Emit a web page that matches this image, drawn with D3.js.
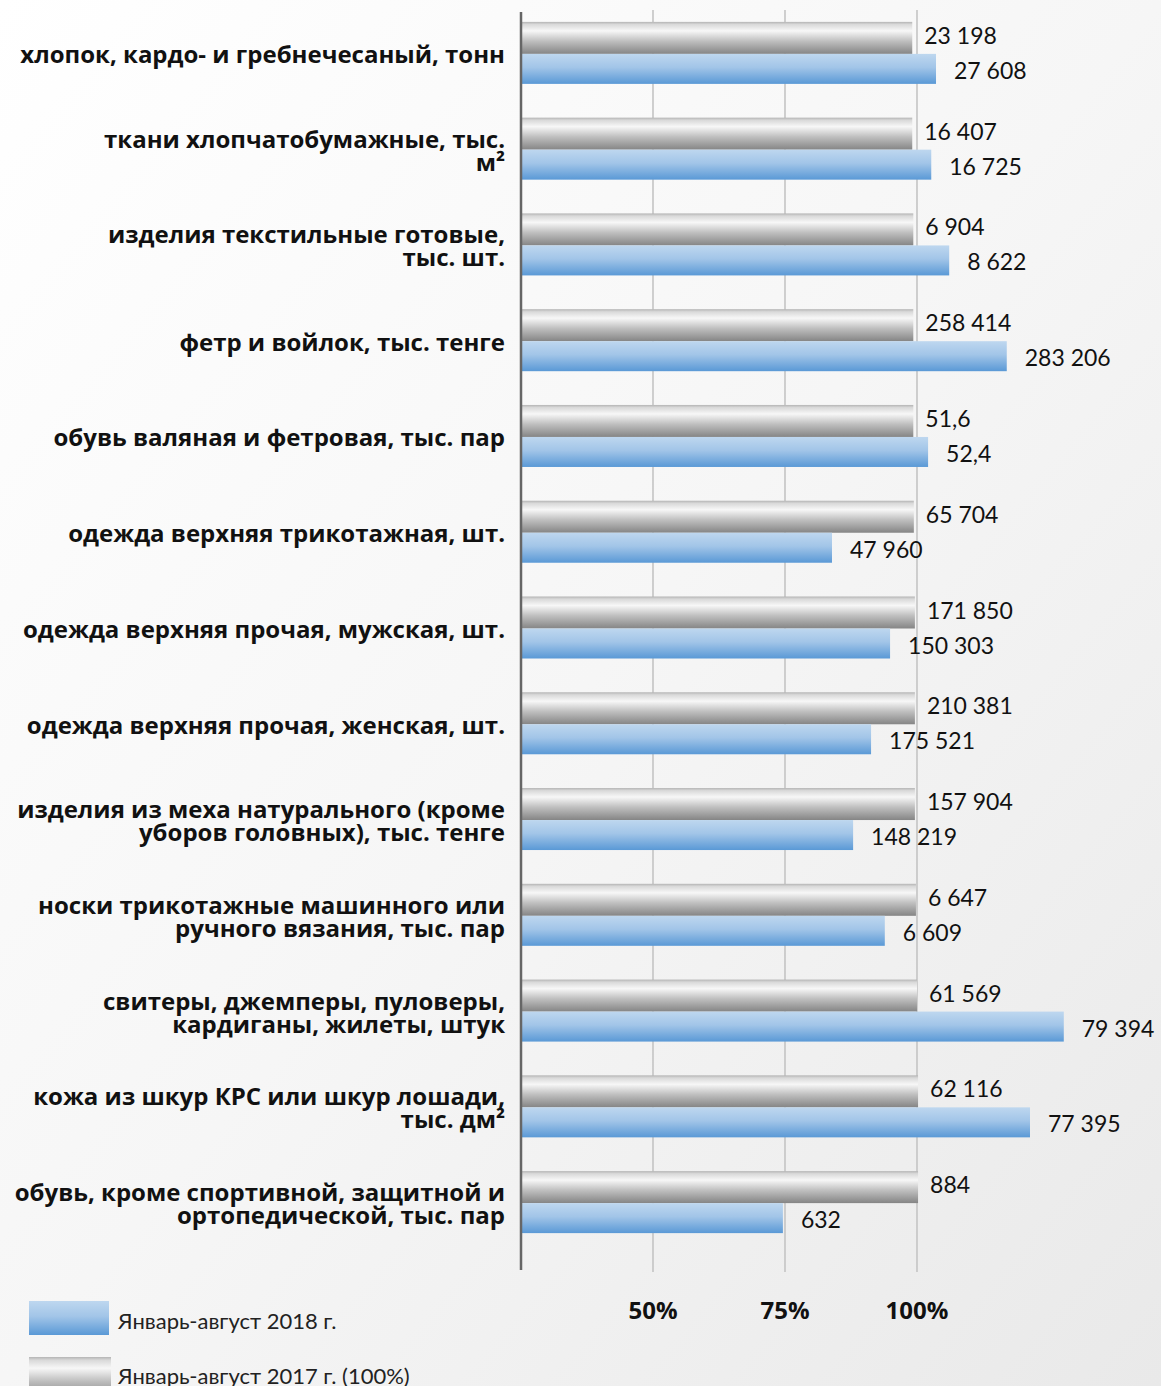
<!DOCTYPE html>
<html>
<head>
<meta charset="utf-8">
<script src="https://cdn.jsdelivr.net/npm/d3@7"></script>
<style>
  html, body { margin: 0; padding: 0; }
  body { width: 1161px; height: 1386px; overflow: hidden; }
  svg { display: block; }
</style>
</head>
<body>
<svg id="chart" width="1161" height="1386"></svg>
<script>
// ---- data ----
const categories = [
  "хлопок, кардо- и гребнечесаный, тонн",
  "ткани хлопчатобумажные, тыс.\nм²",
  "изделия текстильные готовые,\nтыс. шт.",
  "фетр и войлок, тыс. тенге",
  "обувь валяная и фетровая, тыс. пар",
  "одежда верхняя трикотажная, шт.",
  "одежда верхняя прочая, мужская, шт.",
  "одежда верхняя прочая, женская, шт.",
  "изделия из меха натурального (кроме\nуборов головных), тыс. тенге",
  "носки трикотажные машинного или\nручного вязания, тыс. пар",
  "свитеры, джемперы, пуловеры,\nкардиганы, жилеты, штук",
  "кожа из шкур КРС или шкур лошади,\nтыс. дм²",
  "обувь, кроме спортивной, защитной и\nортопедической, тыс. пар"
];
// bar lengths in percent
const pct2017 = [99.1, 99.1, 99.3, 99.3, 99.3, 99.4, 99.6, 99.6, 99.6, 99.8, 100, 100.2, 100.2];
const pct2018 = [103.6, 102.7, 106.1, 117.0, 102.1, 83.9, 94.9, 91.3, 87.9, 93.9, 127.8, 121.4, 74.6];
// value labels
const labels2017 = ["23 198", "16 407", "6 904", "258 414", "51,6", "65 704", "171 850", "210 381", "157 904", "6 647", "61 569", "62 116", "884"];
const labels2018 = ["27 608", "16 725", "8 622", "283 206", "52,4", "47 960", "150 303", "175 521", "148 219", "6 609", "79 394", "77 395", "632"];
const tickValues = [50, 75, 100];
const seriesNames = ["Январь-август 2018 г.", "Январь-август 2017 г. (100%)"];

// ---- drawing ----
const svg = d3.select("#chart");
const defs = svg.append("defs");

const bg = defs.append("linearGradient").attr("id", "bgGrad")
  .attr("x1", "0").attr("y1", "0").attr("x2", "1").attr("y2", "1");
bg.append("stop").attr("offset", "0").attr("stop-color", "#ffffff");
bg.append("stop").attr("offset", "0.5").attr("stop-color", "#f6f6f6");
bg.append("stop").attr("offset", "1").attr("stop-color", "#e9e9e9");

const blueG = defs.append("linearGradient").attr("id", "blueGrad")
  .attr("x1", "0").attr("y1", "0").attr("x2", "0").attr("y2", "1");
[[0, "#bed7ef"], [0.45, "#a2c5e8"], [1, "#5a99d6"]].forEach(s =>
  blueG.append("stop").attr("offset", s[0]).attr("stop-color", s[1]));

const grayG = defs.append("linearGradient").attr("id", "grayGrad")
  .attr("x1", "0").attr("y1", "0").attr("x2", "0").attr("y2", "1");
[[0, "#b4b4b4"], [0.08, "#d9d9d9"], [0.28, "#f7f7f7"], [0.6, "#bfbfbf"], [1, "#858585"]].forEach(s =>
  grayG.append("stop").attr("offset", s[0]).attr("stop-color", s[1]));

svg.append("rect").attr("width", 1161).attr("height", 1386).attr("fill", "url(#bgGrad)");

const x = d3.scaleLinear().domain([25, 100]).range([521, 917]);
const y = d3.scaleBand().domain(categories).range([5, 1250]);

const plotTop = 10, plotBottom = 1272;

// gridlines
svg.append("g").selectAll("line").data(tickValues).join("line")
  .attr("x1", d => x(d)).attr("x2", d => x(d))
  .attr("y1", plotTop).attr("y2", plotBottom)
  .attr("stroke", "#c4c4c4").attr("stroke-width", 1.6);

const font = "Lato, 'Open Sans', sans-serif";
const boldFont = "'Open Sans', Lato, sans-serif";

// bars
const rows = categories.map((c, i) => ({ c, i }));
const cy = d => y(d.c) + y.bandwidth() / 2;

svg.append("g").selectAll("rect").data(rows).join("rect")
  .attr("x", x(25)).attr("y", d => cy(d) - 31)
  .attr("width", d => x(pct2017[d.i]) - x(25)).attr("height", 32)
  .attr("fill", "url(#grayGrad)");

svg.append("g").selectAll("rect").data(rows).join("rect")
  .attr("x", x(25)).attr("y", d => cy(d) + 1)
  .attr("width", d => x(pct2018[d.i]) - x(25)).attr("height", 30)
  .attr("fill", "url(#blueGrad)");

// value labels
svg.append("g").selectAll("text").data(rows).join("text")
  .attr("x", d => x(pct2017[d.i]) + 12).attr("y", d => cy(d) - 18)
  .attr("dominant-baseline", "central")
  .attr("font-family", font).attr("font-size", 23).attr("fill", "#111")
  .text(d => labels2017[d.i]);

svg.append("g").selectAll("text").data(rows).join("text")
  .attr("x", d => x(pct2018[d.i]) + 18).attr("y", d => cy(d) + 17)
  .attr("dominant-baseline", "central")
  .attr("font-family", font).attr("font-size", 23).attr("fill", "#111")
  .text(d => labels2018[d.i]);

// axis line (vertical category axis)
svg.append("line").attr("x1", x(25)).attr("x2", x(25))
  .attr("y1", 12).attr("y2", 1270)
  .attr("stroke", "#666").attr("stroke-width", 2.5);

// category labels
const catG = svg.append("g");
rows.forEach(d => {
  const lines = d.c.split("\n");
  const lh = 23;
  const t = catG.append("text")
    .attr("text-anchor", "end")
    .attr("font-family", boldFont).attr("font-weight", "bold")
    .attr("font-size", 24).attr("fill", "#111");
  lines.forEach((ln, k) => {
    t.append("tspan").attr("x", 505)
      .attr("y", cy(d) + 1 - (lines.length - 1) * lh / 2 + k * lh)
      .attr("dominant-baseline", "central")
      .text(ln);
  });
});

// x tick labels
svg.append("g").selectAll("text").data(tickValues).join("text")
  .attr("x", d => x(d)).attr("y", 1309)
  .attr("text-anchor", "middle").attr("dominant-baseline", "central")
  .attr("font-family", boldFont).attr("font-weight", "bold").attr("font-size", 24).attr("fill", "#111")
  .text(d => d + "%");

// legend
const legend = svg.append("g");
legend.append("rect").attr("x", 29).attr("y", 1301).attr("width", 80).attr("height", 34).attr("fill", "url(#blueGrad)");
legend.append("text").attr("x", 118).attr("y", 1320).attr("dominant-baseline", "central")
  .attr("font-family", font).attr("font-size", 22).attr("fill", "#222").text(seriesNames[0]);
legend.append("rect").attr("x", 29).attr("y", 1357).attr("width", 82).attr("height", 40).attr("fill", "url(#grayGrad)");
legend.append("text").attr("x", 118).attr("y", 1375).attr("dominant-baseline", "central")
  .attr("font-family", font).attr("font-size", 22).attr("fill", "#222").text(seriesNames[1]);
</script>
</body>
</html>
